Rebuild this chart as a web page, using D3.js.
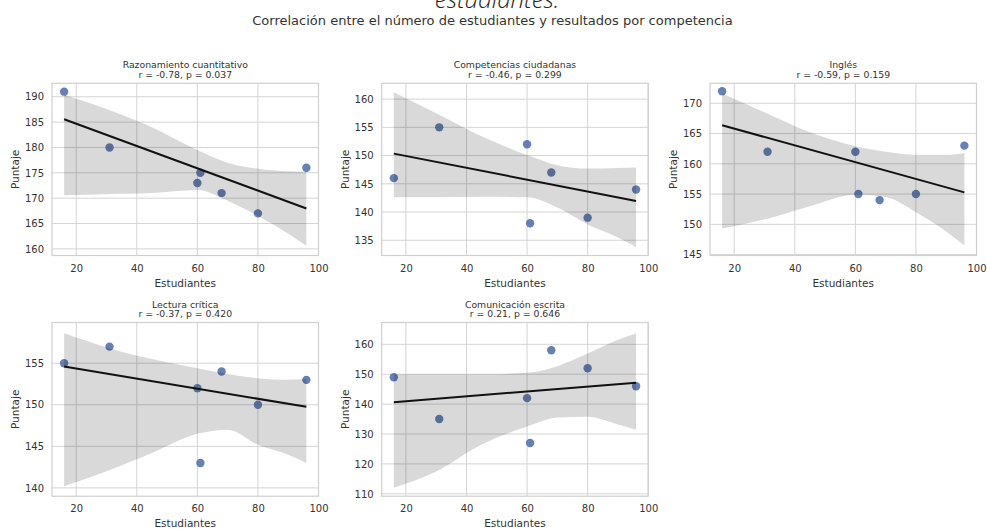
<!DOCTYPE html>
<html>
<head>
<meta charset="utf-8">
<script src="https://cdn.jsdelivr.net/npm/d3@7"></script>
<style>
  html, body { margin: 0; padding: 0; background: #fff; }
  svg { display: block; }
</style>
</head>
<body>
<svg id="chart" width="987" height="529"></svg>
<script>
// ---------------- DATA ----------------
const students = [16, 31, 60, 61, 68, 80, 96];

const competencias = [
  "Razonamiento cuantitativo",
  "Competencias ciudadanas",
  "Inglés",
  "Lectura crítica",
  "Comunicación escrita"
];
const statLabels = [
  "r = -0.78, p = 0.037",
  "r = -0.46, p = 0.299",
  "r = -0.59, p = 0.159",
  "r = -0.37, p = 0.420",
  "r = 0.21, p = 0.646"
];

const razonamiento = [191, 180, 173, 175, 171, 167, 176];
const ciudadanas   = [146, 155, 152, 138, 147, 139, 144];
const ingles       = [172, 162, 162, 155, 154, 155, 163];
const lectura      = [155, 157, 152, 143, 154, 150, 153];
const comunicacion = [149, 135, 142, 127, 158, 152, 146];

// confidence band at these x positions
const bandX = [16, 30, 45, 60, 70, 80, 90, 96];
const razonamientoUpper = [190.4, 187.6, 184.0, 179.5, 177.0, 175.8, 175.3, 175.2];
const razonamientoLower = [170.6, 170.8, 171.0, 171.6, 169.5, 166.5, 163.0, 160.6];
const ciudadanasUpper   = [161.2, 157.5, 153.4, 150.1, 148.3, 147.7, 147.8, 147.9];
const ciudadanasLower   = [142.6, 142.6, 142.7, 142.6, 140.8, 137.8, 135.5, 133.8];
const inglesUpper       = [171.6, 168.5, 165.2, 162.9, 162.0, 161.5, 161.5, 161.8];
const inglesLower       = [149.3, 150.8, 153.0, 154.9, 154.5, 152.0, 148.8, 146.5];
const lecturaUpper      = [158.6, 156.9, 155.5, 154.4, 153.7, 153.2, 153.0, 153.1];
const lecturaLower      = [140.2, 142.0, 144.2, 146.5, 147.0, 145.2, 144.0, 143.0];
const comunicacionUpper = [150.0, 150.0, 150.0, 150.5, 152.7, 156.9, 161.5, 163.7];
const comunicacionLower = [112.0, 117.5, 126.5, 132.5, 135.5, 135.8, 133.2, 131.4];

const xTicks = [20, 40, 60, 80, 100];
const razonamientoTicks = [160, 165, 170, 175, 180, 185, 190];
const ciudadanasTicks   = [135, 140, 145, 150, 155, 160];
const inglesTicks       = [145, 150, 155, 160, 165, 170];
const lecturaTicks      = [140, 145, 150, 155];
const comunicacionTicks = [110, 120, 130, 140, 150, 160];

const titleFragment = "estudiantes.";
const subtitle = "Correlación entre el número de estudiantes y resultados por competencia";
const xLabel = "Estudiantes";
const yLabel = "Puntaje";

// ---------------- LAYOUT ----------------
const colLeft = [52, 381.7, 710];
const axW = 266.5;
const rows = [{ top: 83.3, bottom: 255.5 }, { top: 322.5, bottom: 496.2 }];

const panels = [
  { values: razonamiento, upper: razonamientoUpper, lower: razonamientoLower, ticks: razonamientoTicks, yDom: [158.7, 192.65], col: 0, row: 0 },
  { values: ciudadanas,   upper: ciudadanasUpper,   lower: ciudadanasLower,   ticks: ciudadanasTicks,   yDom: [132.3, 162.8],  col: 1, row: 0 },
  { values: ingles,       upper: inglesUpper,       lower: inglesLower,       ticks: inglesTicks,       yDom: [144.85, 173.3], col: 2, row: 0 },
  { values: lectura,      upper: lecturaUpper,      lower: lecturaLower,      ticks: lecturaTicks,      yDom: [139.0, 159.9],  col: 0, row: 1 },
  { values: comunicacion, upper: comunicacionUpper, lower: comunicacionLower, ticks: comunicacionTicks, yDom: [109.2, 167.3],  col: 1, row: 1 }
];

const svg = d3.select("#chart");
const FONT = "'DejaVu Sans', sans-serif";

// Top (cut) title fragment and subtitle
svg.append("text")
  .attr("x", 497).attr("y", 7.5)
  .attr("text-anchor", "middle")
  .attr("font-family", "'Open Sans', sans-serif")
  .attr("font-style", "italic").attr("font-weight", 300)
  .attr("font-size", 24).attr("fill", "#222")
  .text(titleFragment);

svg.append("text")
  .attr("x", 492.5).attr("y", 24.5)
  .attr("text-anchor", "middle")
  .attr("font-family", FONT)
  .attr("font-size", 13).attr("fill", "#333")
  .text(subtitle);

function linfit(xs, ys) {
  const mx = d3.mean(xs), my = d3.mean(ys);
  let sxy = 0, sxx = 0;
  xs.forEach((x, i) => { sxy += (x - mx) * (ys[i] - my); sxx += (x - mx) * (x - mx); });
  const b = sxy / sxx;
  return { b, a: my - b * mx };
}

panels.forEach((p, idx) => {
  const left = colLeft[p.col], right = left + axW;
  const top = rows[p.row].top, bottom = rows[p.row].bottom;
  const x = d3.scaleLinear().domain([12, 100]).range([left, right]);
  const y = d3.scaleLinear().domain(p.yDom).range([bottom, top]);
  const g = svg.append("g");

  // grid
  g.append("g").selectAll("line.vx").data(xTicks).join("line")
    .attr("x1", d => x(d)).attr("x2", d => x(d))
    .attr("y1", top).attr("y2", bottom)
    .attr("stroke", "#d4d4d4").attr("stroke-width", 1);
  g.append("g").selectAll("line.hy").data(p.ticks).join("line")
    .attr("x1", left).attr("x2", right)
    .attr("y1", d => y(d)).attr("y2", d => y(d))
    .attr("stroke", "#d4d4d4").attr("stroke-width", 1);

  // axes via d3 axis (labels only, no tick marks/domain)
  const xAxis = g.append("g").attr("transform", `translate(0,${bottom})`)
    .call(d3.axisBottom(x).tickValues(xTicks).tickSize(0).tickPadding(9).tickFormat(d3.format("d")));
  const yAxis = g.append("g").attr("transform", `translate(${left},0)`)
    .call(d3.axisLeft(y).tickValues(p.ticks).tickSize(0).tickPadding(8).tickFormat(d3.format("d")));
  [xAxis, yAxis].forEach(a => {
    a.select(".domain").remove();
    a.selectAll("text").attr("font-family", FONT).attr("font-size", 10).attr("fill", "#333");
  });

  // scatter points
  g.append("g").selectAll("circle").data(students).join("circle")
    .attr("cx", d => x(d)).attr("cy", (d, i) => y(p.values[i]))
    .attr("r", 4.2)
    .attr("fill", "#4c6aa6").attr("fill-opacity", 0.85);

  // CI band
  const bandData = bandX.map((bx, i) => ({ x: bx, lo: p.lower[i], hi: p.upper[i] }));
  g.append("path").datum(bandData)
    .attr("d", d3.area().x(d => x(d.x)).y0(d => y(d.lo)).y1(d => y(d.hi)).curve(d3.curveMonotoneX))
    .attr("fill", "#000").attr("fill-opacity", 0.15);

  // regression line
  const fit = linfit(students, p.values);
  const ext = d3.extent(students);
  g.append("path").datum(ext)
    .attr("d", d3.line().x(d => x(d)).y(d => y(fit.a + fit.b * d)))
    .attr("stroke", "#111").attr("stroke-width", 2).attr("fill", "none");

  // frame
  g.append("rect").attr("x", left).attr("y", top)
    .attr("width", right - left).attr("height", bottom - top)
    .attr("fill", "none").attr("stroke", "#cfcfcf").attr("stroke-width", 1.2);

  // titles
  const cx = (left + right) / 2;
  g.append("text").attr("x", cx).attr("y", top - 15)
    .attr("text-anchor", "middle").attr("font-family", FONT).attr("font-size", 9.3).attr("fill", "#333")
    .text(competencias[idx]);
  g.append("text").attr("x", cx).attr("y", top - 5.5)
    .attr("text-anchor", "middle").attr("font-family", FONT).attr("font-size", 9.3).attr("fill", "#333")
    .text(statLabels[idx]);

  // axis labels
  g.append("text").attr("x", cx).attr("y", bottom + 31)
    .attr("text-anchor", "middle").attr("font-family", FONT).attr("font-size", 10.5).attr("fill", "#333")
    .text(xLabel);
  g.append("text")
    .attr("transform", `translate(${left - 33},${(top + bottom) / 2}) rotate(-90)`)
    .attr("text-anchor", "middle").attr("font-family", FONT).attr("font-size", 10.5).attr("fill", "#333")
    .text(yLabel);
});
</script>
</body>
</html>
